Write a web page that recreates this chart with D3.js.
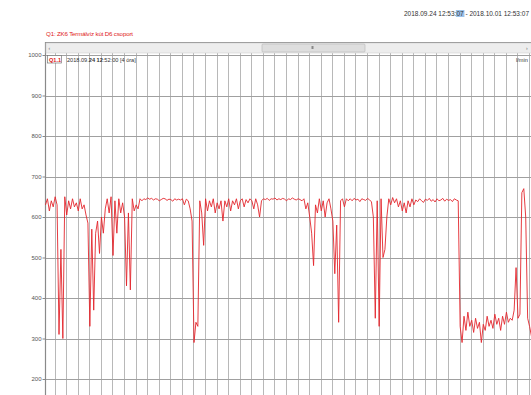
<!DOCTYPE html>
<html>
<head>
<meta charset="utf-8">
<script src="https://cdn.jsdelivr.net/npm/d3@7"></script>
<style>
  body { margin: 0; background: #fff; }
  svg { display: block; font-family: "Liberation Sans", Arial, sans-serif; }
</style>
</head>
<body>
<svg id="chart" width="531" height="395"></svg>
<script>
(function() {
  'use strict';

  // time window shown (7 days), one reading every 40 minutes
  var rangeStart = Date.UTC(2018, 8, 24, 12, 53, 7);
  var rangeEnd = Date.UTC(2018, 9, 1, 12, 53, 7);
  var stepMinutes = 40;

  var title = 'Q1: ZK6 Termálvíz kút D6 csoport';
  var rangeLabel = ['2018.09.24 12:53:', '07', ' - 2018.10.01 12:53:07'];
  var seriesName = 'Q1.1';
  var unitLabel = 'l/min';
  var yTicks = [200, 300, 400, 500, 600, 700, 800, 900, 1000];

  var flow = [
    630, 645, 615, 640, 625, 650, 630, 310, 520, 300,
    650, 605, 640, 620, 645, 625, 635, 615, 645, 620,
    630, 605, 585, 330, 570, 370, 560, 590, 510, 600,
    560, 620, 645, 610, 650, 505, 640, 560, 645, 610,
    635, 600, 430, 610, 420, 645, 615, 630, 620, 645,
    640, 645, 643, 647, 644, 646, 642, 645, 644, 640,
    643, 646, 645, 641, 644, 643, 639, 645, 642, 644,
    642, 645, 630, 644, 640, 620, 590, 290, 340, 330,
    640, 610, 530, 645, 615, 640, 625, 645, 610, 635,
    620, 640, 590, 640, 625, 645, 615, 640, 630, 645,
    620, 640, 645, 625, 643, 635, 645, 640, 620, 645,
    630, 600, 640, 645, 643, 646, 641, 645, 644, 647,
    642, 645, 643, 646, 644, 640, 645, 643, 647, 644,
    642, 645, 643, 640, 645, 620, 635, 600, 560, 480,
    630, 610, 645, 615, 640, 600, 635, 645, 620, 590,
    460, 580, 340, 640, 645, 625, 645, 640, 645, 640,
    646, 642, 644, 638, 645, 643, 641, 646, 642, 638,
    600, 350, 640, 330, 645, 500, 520, 600, 645, 630,
    648, 635, 645, 625, 640, 615, 635, 610, 640, 625,
    645, 630, 642, 638, 645, 640, 636, 644, 641, 646,
    639, 643, 637, 645, 640, 642, 646, 639, 644, 641,
    643, 638, 645, 642, 640, 330, 290, 355, 320, 365,
    330, 345, 315, 350, 325, 340, 290, 335, 320, 355,
    330, 345, 325, 360, 335, 350, 320, 355, 335, 365,
    340, 350, 345, 370, 475, 350, 360, 660, 670, 600,
    350, 330, 305
  ];

  var data = flow.map(function(v, i) {
    return { t: new Date(rangeStart + i * stepMinutes * 60000), v: v };
  });

  var svg = d3.select('#chart');
  var left = 45.5, right = 531.5, panelTop = 42, gridTop = 53, bottom = 395;

  var x = d3.scaleUtc()
    .domain([new Date(rangeStart), new Date(rangeEnd)])
    .range([left, right]);

  var y = d3.scaleLinear()
    .domain([0, 1000])
    .range([460, 55]);

  // top right time range
  var rl = svg.append('text')
    .attr('x', 404).attr('y', 16)
    .attr('textLength', 125).attr('lengthAdjust', 'spacingAndGlyphs')
    .style('font-size', '6.6px').style('fill', '#333');
  rl.append('tspan').text(rangeLabel[0]);
  rl.append('tspan').attr('id', 'sel').text(rangeLabel[1]);
  rl.append('tspan').text(rangeLabel[2]);
  var selBox = document.getElementById('sel').getBBox();
  svg.insert('rect', 'text')
    .attr('x', selBox.x - 0.5).attr('y', selBox.y)
    .attr('width', selBox.width + 1).attr('height', selBox.height)
    .style('fill', '#9cc3ea');

  // chart title
  svg.append('text')
    .attr('x', 46).attr('y', 36)
    .attr('textLength', 87)
    .style('font-size', '6.2px').style('fill', '#e02020')
    .text(title);

  // vertical grid, every 4 hours
  svg.append('g')
    .selectAll('line')
    .data(x.ticks(d3.utcHour.every(4)))
    .enter().append('line')
    .attr('x1', function(d) { return Math.round(x(d)) + 0.5; })
    .attr('x2', function(d) { return Math.round(x(d)) + 0.5; })
    .attr('y1', gridTop).attr('y2', bottom)
    .style('stroke', '#b8b8b8').style('stroke-width', 1);

  // horizontal grid
  svg.append('g')
    .selectAll('line')
    .data(yTicks)
    .enter().append('line')
    .attr('x1', left).attr('x2', right)
    .attr('y1', function(d) { return Math.round(y(d)) + 0.5; })
    .attr('y2', function(d) { return Math.round(y(d)) + 0.5; })
    .style('stroke', '#a0a0a0').style('stroke-width', 1);

  // y axis
  var yAxis = svg.append('g')
    .attr('transform', 'translate(' + left + ',0)')
    .call(d3.axisLeft(y).tickValues(yTicks).tickFormat(d3.format('d'))
      .tickSize(3).tickPadding(1));
  yAxis.select('.domain').remove();
  yAxis.selectAll('.tick line').style('stroke', '#888');
  yAxis.selectAll('.tick text')
    .style('font-size', '6px').style('fill', '#555')
    .style('font-family', '"Liberation Sans", Arial, sans-serif');
  svg.append('line')
    .attr('x1', left).attr('x2', left)
    .attr('y1', panelTop).attr('y2', bottom)
    .style('stroke', '#8a8a8a').style('stroke-width', 1.2);

  // scrollbar above the plot
  svg.append('line')
    .attr('x1', left).attr('x2', right)
    .attr('y1', panelTop + 0.5).attr('y2', panelTop + 0.5)
    .style('stroke', '#8a8a8a');
  svg.append('rect')
    .attr('x', left + 0.5).attr('y', panelTop + 1)
    .attr('width', right - left).attr('height', gridTop - panelTop - 1)
    .style('fill', '#ededed').style('stroke', '#cfcfcf').style('stroke-width', 0.6);
  svg.append('rect')
    .attr('x', 262).attr('y', panelTop + 2)
    .attr('width', 103).attr('height', gridTop - panelTop - 3)
    .attr('rx', 1)
    .style('fill', '#dedede').style('stroke', '#b5b5b5').style('stroke-width', 0.6);
  svg.append('rect')
    .attr('x', 311.5).attr('y', 46).attr('width', 2).attr('height', 3)
    .style('fill', '#888');
  svg.append('text').attr('x', 48.5).attr('y', 49.5)
    .style('font-size', '5px').style('fill', '#666').text('‹');
  svg.append('text').attr('x', 526).attr('y', 49.5)
    .style('font-size', '5px').style('fill', '#666').text('›');

  // series line
  var line = d3.line()
    .x(function(d) { return x(d.t); })
    .y(function(d) { return y(d.v); });

  svg.append('path')
    .datum(data)
    .attr('d', line)
    .style('fill', 'none')
    .style('stroke', '#e3262c')
    .style('stroke-width', 0.9)
    .style('stroke-linejoin', 'round');

  // legend row
  svg.append('rect')
    .attr('x', 47.5).attr('y', 55.5).attr('width', 14).attr('height', 7.5)
    .style('fill', '#fff').style('stroke', '#777').style('stroke-width', 0.7);
  svg.append('text')
    .attr('x', 49).attr('y', 61.5)
    .style('font-size', '5.6px').style('font-weight', 'bold').style('fill', '#e02020')
    .text(seriesName);
  var lg = svg.append('text')
    .attr('x', 67).attr('y', 61.5)
    .style('font-size', '5.6px').style('fill', '#333');
  lg.append('tspan').text('2018.09.');
  lg.append('tspan').style('font-weight', 'bold').text('24');
  lg.append('tspan').text(' ');
  lg.append('tspan').style('font-weight', 'bold').text('12');
  lg.append('tspan').text(':52:00  [4 óra]');
  svg.append('text')
    .attr('x', 516).attr('y', 61.5)
    .style('font-size', '5.6px').style('fill', '#333')
    .text(unitLabel);
})();
</script>
</body>
</html>
